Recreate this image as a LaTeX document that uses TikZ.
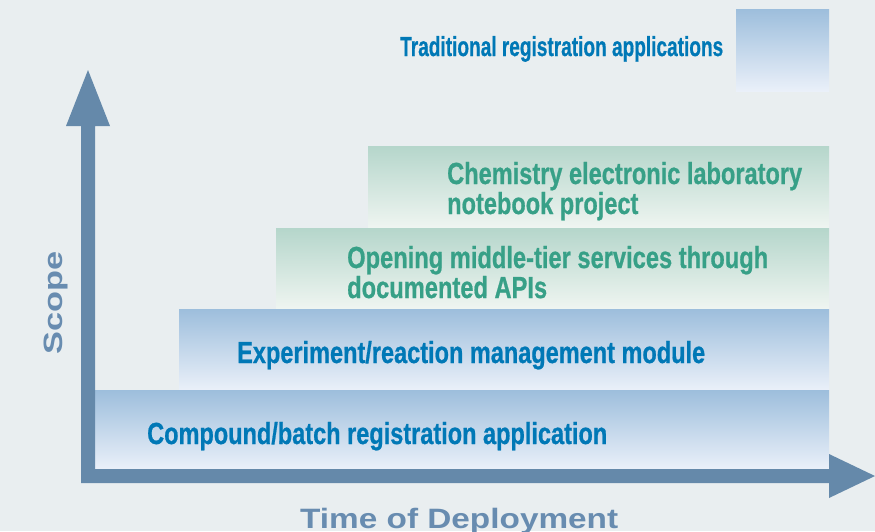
\documentclass[tikz,border=0pt]{standalone}
\usepackage{fontspec}
\setmainfont{Liberation Sans}
\newfontfamily\heavyfont{Liberation Sans Bold}[FakeBold=0.8]
\usepackage{graphicx}
\definecolor{bg}{RGB}{233,238,240}
\definecolor{arrowc}{RGB}{101,137,170}
\definecolor{bluetop}{RGB}{157,190,220}
\definecolor{bluebot}{RGB}{234,240,249}
\definecolor{greentop}{RGB}{181,214,203}
\definecolor{greenbot}{RGB}{239,245,241}
\definecolor{bluetext}{RGB}{0,120,182}
\definecolor{greentext}{RGB}{55,160,135}
\definecolor{axistext}{RGB}{104,140,176}
\newlength\fitlen
\newcommand\fitw[2]{\settowidth\fitlen{#2}\pgfmathsetmacro\fitratio{#1/\fitlen}\global\let\fitratioG\fitratio\scalebox{\fitratio}[1]{#2}}
\newcommand\fitsame[1]{\scalebox{\fitratioG}[1]{#1}}
\tikzset{
  bluebar/.style={top color=bluetop, bottom color=bluebot, draw=none},
  greenbar/.style={top color=greentop, bottom color=greenbot, draw=none},
  lbl/.style={anchor=base west, inner sep=0pt, font=\fontsize{30.5}{30}\selectfont\heavyfont},
  bluelbl/.style={lbl, text=bluetext},
  greenlbl/.style={lbl, text=greentext},
  axislbl/.style={anchor=base west, inner sep=0pt, text=axistext, font=\bfseries},
}
\begin{document}
\begin{tikzpicture}[x=1pt,y=-1pt]
\fill[bg] (0,0) rectangle (875,531);
\useasboundingbox (0,0) rectangle (875,531);
% bars
\shade[bluebar] (736,9) rectangle (829,91);
\shade[greenbar] (368,146) rectangle (829,228);
\shade[greenbar] (276,228) rectangle (829,309);
\shade[bluebar] (179,309) rectangle (829,390);
\shade[bluebar] (95,390) rectangle (829,469);
% axes
\fill[arrowc] (81,483) -- (829,483) -- (829,498) -- (875,476) -- (829,454) -- (829,469)
  -- (95,469) -- (95,126) -- (110,126) -- (88,70) -- (66,126) -- (81,126) -- cycle;
% labels
\node[bluelbl, font=\fontsize{27.5}{28}\selectfont\heavyfont] (trad) at (400,56) {\fitw{323}{Traditional registration applications}};
\node[greenlbl] (chem1) at (447,184) {\fitw{355}{Chemistry electronic laboratory}};
\node[greenlbl] (chem2) at (447,214) {\fitsame{notebook project}};
\node[greenlbl] (open1) at (347,268) {\fitw{421}{Opening middle-tier services through}};
\node[greenlbl] (open2) at (347,298) {\fitsame{documented APIs}};
\node[bluelbl] (exp) at (237,363) {\fitw{468}{Experiment/reaction management module}};
\node[bluelbl] (comp) at (147,444) {\fitw{460}{Compound/batch registration application}};
\node[axislbl, rotate=90, font=\fontsize{26.5}{27}\selectfont\bfseries] (scope) at (62,355) {\fitw{103}{Scope}};
\node[axislbl, font=\fontsize{28}{28}\selectfont\bfseries] (time) at (300,528) {\fitw{318}{Time of Deployment}};
\end{tikzpicture}
\end{document}
